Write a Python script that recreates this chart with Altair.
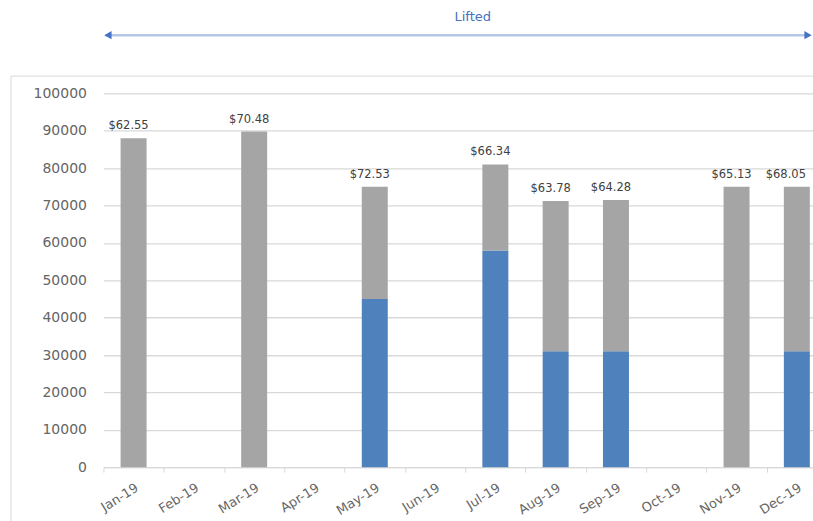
import altair as alt
import pandas as pd

# Monthly volumes, split into the blue (lower) and grey (upper) segments
months = ["Jan-19", "Feb-19", "Mar-19", "Apr-19", "May-19", "Jun-19",
          "Jul-19", "Aug-19", "Sep-19", "Oct-19", "Nov-19", "Dec-19"]
blue_volume = [0, 0, 0, 0, 45000, 0, 58000, 31000, 31000, 0, 0, 31000]
grey_volume = [88000, 0, 89800, 0, 30000, 0, 23000, 40200, 40500, 0, 75000, 44000]
price_labels = ["$62.55", "", "$70.48", "", "$72.53", "", "$66.34",
                "$63.78", "$64.28", "", "$65.13", "$68.05"]
y_ticks = [0, 10000, 20000, 30000, 40000, 50000, 60000, 70000, 80000, 90000, 100000]

rows = []
for m, b, g, lab in zip(months, blue_volume, grey_volume, price_labels):
    rows.append({"month": m, "segment": "blue", "order": 0, "volume": b, "label": lab})
    rows.append({"month": m, "segment": "grey", "order": 1, "volume": g, "label": lab})
df = pd.DataFrame(rows)

PLOT_W = 710      # visible part of the plot
BAND_RANGE = 724  # full category range, runs past the right edge
PLOT_H = 374
FONT = "DejaVu Sans"
AXIS_GREY = "#666666"

x_scale = alt.Scale(range=[0, BAND_RANGE], paddingInner=0, paddingOuter=0)
y_scale = alt.Scale(domain=[0, 100000], nice=False)

x_enc = alt.X(
    "month:N", sort=months, title=None, scale=x_scale,
    axis=alt.Axis(labelAngle=-32, labelAlign="right", labelBaseline="top",
                  labelFont=FONT, labelFontSize=13, labelColor=AXIS_GREY,
                  labelPadding=9, domainColor="#d9d9d9", tickColor="#d9d9d9",
                  tickSize=5, tickBand="extent", grid=False, labelOverlap=False),
)

bars = alt.Chart(df).mark_bar(size=26).encode(
    x=x_enc,
    y=alt.Y("volume:Q", stack="zero", title=None, scale=y_scale,
            axis=alt.Axis(values=y_ticks, format="d", domain=False, ticks=False,
                          labelOverlap=False, labelFont=FONT, labelFontSize=14,
                          labelColor=AXIS_GREY, labelPadding=17,
                          gridColor="#d9d9d9", gridWidth=1.3)),
    color=alt.Color("segment:N", legend=None,
                    scale=alt.Scale(domain=["blue", "grey"], range=["#4f81bd", "#a5a5a5"])),
    order=alt.Order("order:Q"),
)


def price_text(keep, shift):
    # Price labels above the stacked bars
    return alt.Chart(df).transform_filter(
        (alt.datum.label != "") & keep
    ).mark_text(font=FONT, fontSize=11.5, color="#404040", dy=-9, dx=shift,
                baseline="alphabetic").encode(
        x=alt.X("month:N", sort=months, axis=None),
        y=alt.Y("sum(volume):Q", axis=None),
        text="label:N",
    )


labels_main = price_text(alt.datum.month != "Dec-19", -5)
# the last label is nudged further left so that it stays inside the chart
labels_last = price_text(alt.datum.month == "Dec-19", -11)

one = pd.DataFrame({"k": [0]})

# Outline of the chart area
frame = alt.Chart(one).mark_rect(fillOpacity=0, stroke="#d9d9d9", strokeWidth=1).encode(
    x=alt.value(-92.5), x2=alt.value(800), y=alt.value(-17.3), y2=alt.value(500)
)

# "Lifted" span marker above the plot
arrow_line = alt.Chart(one).mark_rule(color="#b4c7e7", strokeWidth=2.5).encode(
    x=alt.value(2), x2=alt.value(707), y=alt.value(-58.3)
)
arrow_left = alt.Chart(one).mark_point(shape="triangle-left", filled=True, opacity=1,
                                       color="#4472c4", size=70).encode(
    x=alt.value(4.5), y=alt.value(-58.3)
)
arrow_right = alt.Chart(one).mark_point(shape="triangle-right", filled=True, opacity=1,
                                        color="#4472c4", size=70).encode(
    x=alt.value(705), y=alt.value(-58.3)
)
lifted = alt.Chart(one).mark_text(text="Lifted", font=FONT, fontSize=13,
                                  color="#4472c4", baseline="middle").encode(
    x=alt.value(369.5), y=alt.value(-76.3)
)

chart = alt.layer(frame, bars, labels_main, labels_last,
                  arrow_line, arrow_left, arrow_right, lifted).properties(
    width=PLOT_W,
    height=PLOT_H,
    autosize=alt.AutoSizeParams(type="none"),
    padding={"left": 103.5, "top": 93.3, "right": 0, "bottom": 53.7},
    background="white",
).resolve_axis(x="independent", y="independent").configure_view(stroke=None)

chart.save("out.html", embed_options={"renderer": "svg", "actions": False})
